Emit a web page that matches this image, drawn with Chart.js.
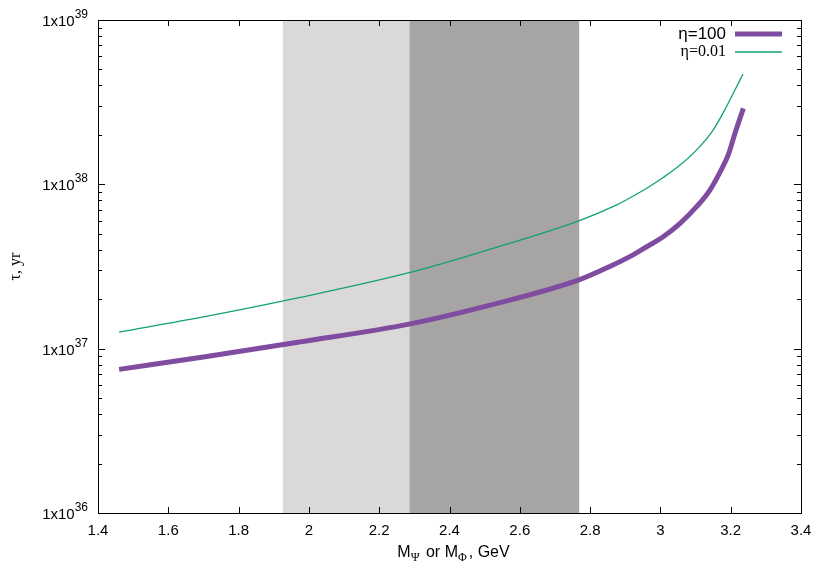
<!DOCTYPE html>
<html><head><meta charset="utf-8">
<script src="https://cdn.jsdelivr.net/npm/chart.js@4"></script>
<style>html,body{margin:0;padding:0;background:#fff}</style>
</head><body>
<canvas id="c" width="830" height="581"></canvas>
<script>
/* lifetime vs mass, log y, two eta curves + shaded mass bands */

// data
const massEta100 = [1.46, 1.7, 1.975, 2.285, 2.507, 2.768, 2.865, 2.913, 2.961, 3.008, 3.056, 3.103, 3.141, 3.17, 3.193, 3.212, 3.236];
const tauEta100  = [7.48e36, 8.89e36, 1.10e37, 1.41e37, 1.82e37, 2.62e37, 3.23e37, 3.63e37, 4.17e37, 4.80e37, 5.79e37, 7.31e37, 9.23e37, 1.19e38, 1.51e38, 2.04e38, 2.90e38];
const massEta001 = [1.46, 1.7, 1.975, 2.285, 2.507, 2.768, 2.865, 2.913, 2.961, 3.008, 3.056, 3.103, 3.15, 3.188, 3.212, 3.235];
const tauEta001  = [1.26e37, 1.56e37, 2.05e37, 2.90e37, 3.98e37, 6.00e37, 7.31e37, 8.26e37, 9.46e37, 1.10e38, 1.31e38, 1.62e38, 2.14e38, 2.97e38, 3.75e38, 4.69e38];

const lightBand = [1.926, 2.286];
const darkBand  = [2.286, 2.769];

const xTicks = [1.4, 1.6, 1.8, 2, 2.2, 2.4, 2.6, 2.8, 3, 3.2, 3.4];
const yExps  = [36, 37, 38, 39];
const legendLabels = ['η=100', 'η=0.01'];

const pts = (xs, ys) => xs.map((x, i) => ({x, y: ys[i]}));

const sans = '"Liberation Sans", Arial, sans-serif';
const serif = '"Liberation Serif", "Times New Roman", serif';

const decor = {
  id: 'decor',
  beforeDatasetsDraw(chart){
    const {ctx, chartArea: a, scales: {x}} = chart;
    ctx.save();
    ctx.fillStyle = '#dad9d8';
    let x0 = x.getPixelForValue(lightBand[0]), x1 = x.getPixelForValue(lightBand[1]);
    ctx.fillRect(x0, a.top, x1 - x0, a.bottom - a.top);
    ctx.fillStyle = '#a6a5a4';
    x0 = x.getPixelForValue(darkBand[0]); x1 = x.getPixelForValue(darkBand[1]);
    ctx.fillRect(x0, a.top, x1 - x0, a.bottom - a.top);
    ctx.restore();
  },
  afterDatasetsDraw(chart){
    const {ctx, chartArea: a, scales: {x, y}} = chart;
    ctx.save();
    ctx.strokeStyle = '#000';
    ctx.lineWidth = 1;
    // frame
    ctx.strokeRect(Math.round(a.left) + 0.5, Math.round(a.top) + 0.5, Math.round(a.right - a.left), Math.round(a.bottom - a.top));

    ctx.beginPath();
    // x ticks, bottom and top (inward)
    xTicks.forEach(v => {
      const px = Math.round(x.getPixelForValue(v)) + 0.5;
      ctx.moveTo(px, a.bottom); ctx.lineTo(px, a.bottom - 6);
      ctx.moveTo(px, a.top); ctx.lineTo(px, a.top + 6);
    });
    // y ticks, major and minor, both sides
    yExps.forEach(e => {
      for (let m = 1; m <= 9; m++) {
        const v = m * Math.pow(10, e);
        if (v > 1e39) break;
        const py = Math.round(y.getPixelForValue(v)) + 0.5;
        const len = m === 1 ? 7 : 4;
        ctx.moveTo(a.left, py); ctx.lineTo(a.left + len, py);
        ctx.moveTo(a.right, py); ctx.lineTo(a.right - len, py);
      }
    });
    ctx.stroke();

    // tick labels
    ctx.fillStyle = '#000';
    ctx.font = '15px ' + sans;
    ctx.textAlign = 'center';
    ctx.textBaseline = 'middle';
    xTicks.forEach(v => ctx.fillText(String(v), x.getPixelForValue(v), a.bottom + 18));

    yExps.forEach(e => {
      const py = y.getPixelForValue(Math.pow(10, e));
      ctx.font = '12px ' + sans;
      const sup = String(e);
      const sw = ctx.measureText(sup).width;
      ctx.textAlign = 'left';
      ctx.textBaseline = 'alphabetic';
      const right = a.left - 10;
      ctx.fillText(sup, right - sw, py - 2);
      ctx.font = '15px ' + sans;
      ctx.textAlign = 'right';
      ctx.fillText('1x10', right - sw, py + 6);
    });

    // x title with subscripts
    const parts = [['M', 0, 16], ['Ψ', 4, 12], [' or M', 0, 16], ['Φ', 4, 12], [', GeV', 0, 16]];
    let total = 0;
    parts.forEach(p => { ctx.font = p[2] + 'px ' + (p[2] === 12 ? serif : sans); total += ctx.measureText(p[0]).width + (p[2] === 12 ? 2 : 0); });
    let cx = (a.left + a.right) / 2 + 4 - total / 2;
    ctx.textAlign = 'left';
    parts.forEach(p => {
      ctx.font = p[2] + 'px ' + (p[2] === 12 ? serif : sans);
      ctx.fillText(p[0], cx, 557 + p[1]);
      cx += ctx.measureText(p[0]).width + (p[2] === 12 ? 2 : 0);
    });

    // y title
    ctx.save();
    ctx.translate(20, (a.top + a.bottom) / 2);
    ctx.rotate(-Math.PI / 2);
    ctx.font = '16px ' + serif;
    ctx.textAlign = 'center';
    ctx.fillText('τ, yr', 0, 0);
    ctx.restore();

    // legend: text then line sample
    const rows = [[legendLabels[0], '#7f4ca0', 5, '17px ' + sans], [legendLabels[1], '#12a078', 1.3, '16px ' + serif]];
    rows.forEach((r, i) => {
      const ly = 34 + i * 18;
      ctx.font = r[3];
      ctx.textAlign = 'right';
      ctx.textBaseline = 'middle';
      ctx.fillText(r[0], a.right - 75, ly);
      ctx.strokeStyle = r[1];
      ctx.lineWidth = r[2];
      ctx.beginPath();
      ctx.moveTo(a.right - 66, ly); ctx.lineTo(a.right - 19, ly);
      ctx.stroke();
    });
    ctx.restore();
  }
};

new Chart(document.getElementById('c').getContext('2d'), {
  type: 'line',
  data: {
    datasets: [
      { label: legendLabels[0], data: pts(massEta100, tauEta100), borderColor: '#7f4ca0', borderWidth: 5, pointRadius: 0, cubicInterpolationMode: 'monotone', fill: false },
      { label: legendLabels[1], data: pts(massEta001, tauEta001), borderColor: '#12a078', borderWidth: 1.3, pointRadius: 0, cubicInterpolationMode: 'monotone', fill: false }
    ]
  },
  options: {
    responsive: false,
    animation: false,
    layout: { padding: { left: 98, top: 20, right: 29, bottom: 68 } },
    plugins: { legend: { display: false }, tooltip: { enabled: false } },
    scales: {
      x: { type: 'linear', min: 1.4, max: 3.4, display: false },
      y: { type: 'logarithmic', min: 1e36, max: 1e39, display: false }
    }
  },
  plugins: [decor]
});
</script>
</body></html>
